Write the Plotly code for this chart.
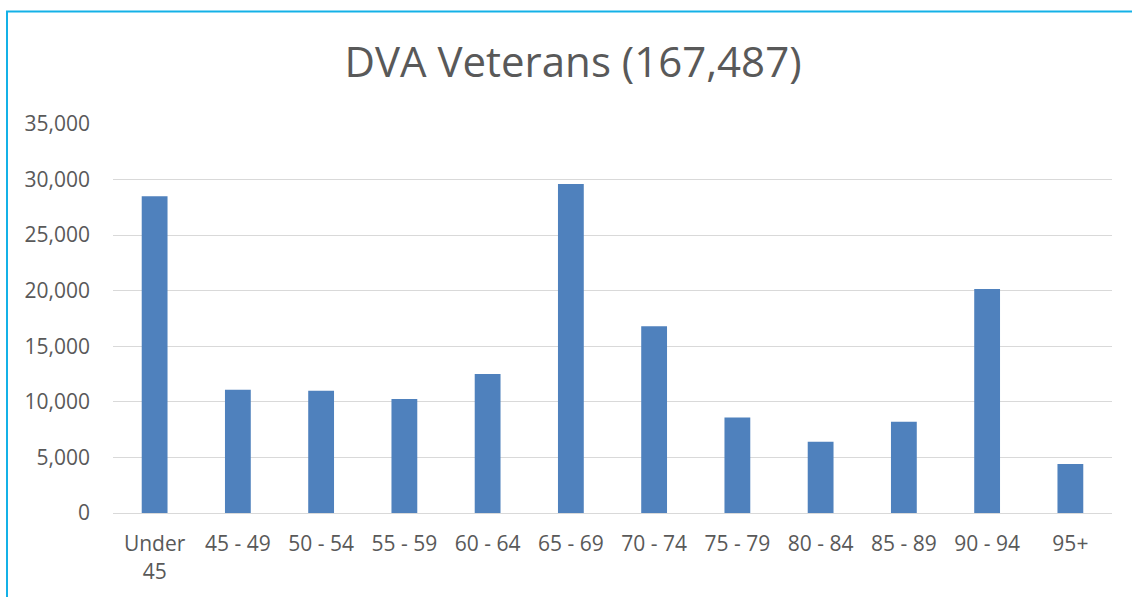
import plotly.graph_objects as go

categories = ["Under<br>45", "45 - 49", "50 - 54", "55 - 59", "60 - 64", "65 - 69",
              "70 - 74", "75 - 79", "80 - 84", "85 - 89", "90 - 94", "95+"]
veterans = [28500, 11100, 11000, 10250, 12500, 29600, 16800, 8600, 6400, 8200, 20150, 4400]
y_ticks = [0, 5000, 10000, 15000, 20000, 25000, 30000, 35000]
y_tick_labels = ["0", "5,000", "10,000", "15,000", "20,000", "25,000", "30,000", "35,000"]

W, H = 1132, 597
L, R, T, B = 113, 20, 124, 84
pw, ph = W - L - R, H - T - B

def px_x(x):
    return (x - L) / pw

def px_y(y):
    return (H - B - y) / ph

text_color = "#595959"
font_family = "Open Sans, Liberation Sans, sans-serif"

fig = go.Figure(go.Bar(x=categories, y=veterans, marker_color="#4F81BD",
                       marker_line_width=0))

fig.update_layout(
    width=W, height=H,
    margin=dict(l=L, r=R, t=T, b=B),
    paper_bgcolor="white", plot_bgcolor="white",
    bargap=0.69,
    showlegend=False,
    title=dict(text="DVA Veterans (167,487)", x=573 / W, xref="container",
               xanchor="center",
               y=1 - 62 / H, yref="container", yanchor="middle",
               font=dict(family=font_family, size=42, color=text_color)),
    font=dict(family=font_family, color=text_color),
)
fig.update_xaxes(
    type="category", showgrid=False, showline=True, linecolor="#D9D9D9", linewidth=1,
    ticks="", tickfont=dict(size=21, color=text_color), ticklabelstandoff=12,
    fixedrange=True,
)
fig.update_yaxes(
    range=[0, 35000], tickvals=y_ticks, ticktext=y_tick_labels,
    showgrid=True, gridcolor="#D9D9D9", gridwidth=1, zeroline=False,
    ticks="", tickfont=dict(size=21, color=text_color), ticklabelstandoff=22,
    fixedrange=True,
)

border = "#14B1E7"
fig.add_shape(type="line", xref="paper", yref="paper",
              x0=px_x(7), x1=px_x(7), y0=px_y(11), y1=px_y(610),
              line=dict(color=border, width=2))
fig.add_shape(type="line", xref="paper", yref="paper",
              x0=px_x(6), x1=px_x(1150), y0=px_y(11.5), y1=px_y(11.5),
              line=dict(color=border, width=2))

fig.write_html("out.html", config={"displayModeBar": False},
               post_script="document.body.style.margin='0px';document.body.style.overflow='hidden';")
